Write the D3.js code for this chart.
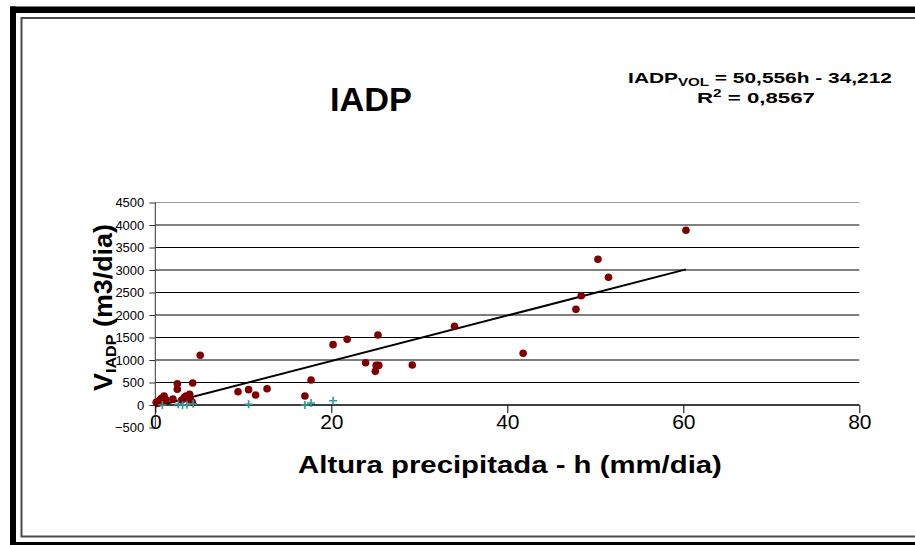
<!DOCTYPE html>
<html><head><meta charset="utf-8">
<script src="https://cdn.jsdelivr.net/npm/d3@7"></script>
<style>html,body{margin:0;padding:0;background:#fff;} svg{display:block;font-family:Arial,"Liberation Sans",sans-serif;}</style>
</head><body>
<script>
// Observed points (h in mm/dia, V in m3/dia)
const redH = [0.1,0.3,0.5,0.7,1.0,1.2,1.0,2.0,2.5,2.5,3.0,3.3,3.6,3.9,4.0,4.25,4.2,3.5,5.1,9.4,10.6,11.4,12.7,17.0,17.7,20.2,21.8,23.9,25.0,25.1,25.4,25.3,29.2,34.0,41.8,47.8,48.4,50.3,51.5,60.3];
const redV = [60,40,110,150,200,120,60,130,470,350,110,170,140,240,110,490,60,200,1104,296,341,222,362,200,556,1341,1459,940,748,880,880,1556,889,1749,1149,2126,2429,3237,2838,3882];
const crossH = [0.8,2.6,3.1,3.6,4.3,10.6,17.0,17.7,20.2];
const crossV = [0,15,0,7,29,15,0,44,96];
const yTicks = [-500,0,500,1000,1500,2000,2500,3000,3500,4000,4500];
const xTicks = [0,20,40,60,80];
const slope = 50.556, intercept = -34.212;

const W = 915, H = 545;
const svg = d3.select("body").append("svg").attr("width", W).attr("height", H);

// stretch a text element horizontally so that it spans [left, right]
function fitX(sel, left, right) {
  const b = sel.node().getBBox();
  const s = (right - left) / b.width;
  sel.attr("transform", `translate(${left - b.x * s},0) scale(${s},1)`);
}

// frame
svg.append("rect").attr("x",10).attr("y",6.5).attr("width",905).attr("height",6.5).attr("fill","#000");
svg.append("rect").attr("x",10).attr("y",6.5).attr("width",6).attr("height",538.5).attr("fill","#000");
svg.append("rect").attr("x",10).attr("y",542).attr("width",905).attr("height",3).attr("fill","#000");
svg.append("path").attr("d","M921,18 H21.5 V536.5 H921").attr("fill","none").attr("stroke","#4a4a4a").attr("stroke-width",2);

const x = d3.scaleLinear().domain([0,80]).range([155.3,859.3]);
const y = d3.scaleLinear().domain([-500,4500]).range([427.5,202.5]);

// gridlines
svg.append("g").selectAll("line").data(yTicks.filter(d=>d>-500)).join("line")
  .attr("x1",x(0)).attr("x2",x(80)).attr("y1",d=>y(d)).attr("y2",d=>y(d))
  .attr("stroke",d=>d===4500?"#999":"#000").attr("stroke-width",1);

// y axis
const ya = svg.append("g").attr("transform",`translate(${x(0)},0)`)
  .call(d3.axisLeft(y).tickValues(yTicks).tickSize(6).tickPadding(5).tickFormat(d3.format("d")));
ya.select(".domain").attr("stroke","#333").attr("d",`M0,${y(4500)}V${y(-500)}`);
ya.selectAll(".tick line").attr("stroke","#333");
ya.selectAll("text").attr("font-size",13).attr("fill","#000").attr("font-family","Arial, 'Liberation Sans', sans-serif");

// x axis at y=0
const xa = svg.append("g").attr("transform",`translate(0,${y(0)})`)
  .call(d3.axisBottom(x).tickValues(xTicks).tickSize(8).tickPadding(0).tickFormat(d3.format("d")));
xa.select(".domain").attr("stroke","#000").attr("d",`M${x(0)},0H${x(80)}`);
xa.selectAll(".tick line").attr("stroke","#000");
xa.selectAll("text").attr("font-size",21).attr("fill","#000").attr("font-family","Arial, 'Liberation Sans', sans-serif").attr("dy","0.78em");

// trend line
const hMax = d3.max(redH);
svg.append("line").attr("x1",x(0)).attr("y1",y(intercept)).attr("x2",x(hMax)).attr("y2",y(slope*hMax+intercept))
  .attr("stroke","#000").attr("stroke-width",2);

// points
svg.append("g").selectAll("circle").data(d3.range(redH.length)).join("circle")
  .attr("cx",i=>x(redH[i])).attr("cy",i=>y(redV[i])).attr("r",3.8).attr("fill","#800000");
svg.append("g").selectAll("path").data(d3.range(crossH.length)).join("path")
  .attr("d",i=>{const cx=x(crossH[i]), cy=y(crossV[i]); return `M${cx-4},${cy}H${cx+4}M${cx},${cy-4}V${cy+4}`;})
  .attr("stroke","#2a9a9a").attr("stroke-width",1.6);

// title
const title = svg.append("text").attr("x",371).attr("y",111).attr("text-anchor","middle")
  .attr("font-size",34).attr("font-weight","bold").text("IADP");
fitX(title, 330, 412);

// equation
const eq = svg.append("text").attr("x",760).attr("y",83.5).attr("text-anchor","middle").attr("font-size",14.5).attr("font-weight","bold");
eq.append("tspan").text("IADP");
eq.append("tspan").attr("font-size",10.5).attr("dy",3).text("VOL");
eq.append("tspan").attr("dy",-3).text(" = 50,556h - 34,212");
fitX(eq, 628, 892);
const r2 = svg.append("text").attr("x",756).attr("y",103.5).attr("text-anchor","middle").attr("font-size",14.5).attr("font-weight","bold");
r2.append("tspan").text("R");
r2.append("tspan").attr("font-size",10).attr("dy",-6).text("2");
r2.append("tspan").attr("dy",6).text(" = 0,8567");
fitX(r2, 697, 815);

// axis titles
const xt = svg.append("text").attr("x",510).attr("y",473).attr("text-anchor","middle")
  .attr("font-size",24).attr("font-weight","bold").text("Altura precipitada - h (mm/dia)");
fitX(xt, 298, 722);

const yg = svg.append("g").attr("transform","translate(112,308) rotate(-90)");
const yt = yg.append("text").attr("x",0).attr("y",0).attr("text-anchor","middle")
  .attr("font-size",25).attr("font-weight","bold");
yt.append("tspan").text("V");
yt.append("tspan").attr("font-size",15).attr("dy",4).text("IADP");
yt.append("tspan").attr("dy",-4).text(" (m3/dia)");
fitX(yt, -83, 84);
</script>
</body></html>
